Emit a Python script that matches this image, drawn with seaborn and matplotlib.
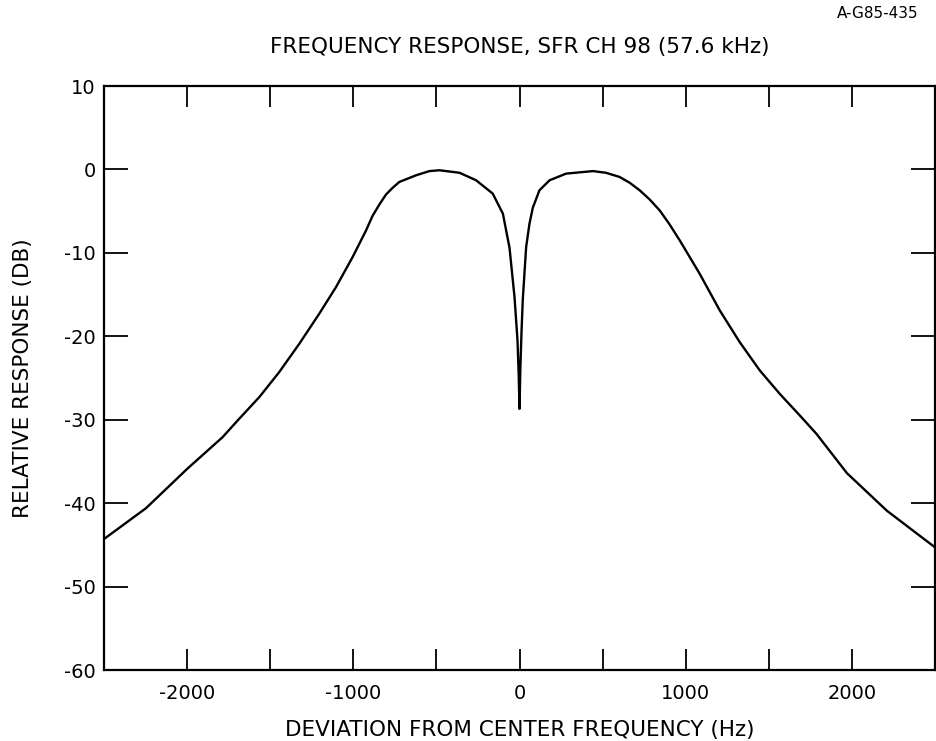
import matplotlib
matplotlib.use("Agg")
import matplotlib.pyplot as plt
import seaborn as sns
import pandas as pd
from matplotlib.ticker import MultipleLocator

# Data
deviation_hz = [-2500, -2247, -2000, -1787, -1687, -1566, -1446, -1325, -1205, -1104,
                -1004, -923, -885, -843, -803, -763, -723, -622, -542, -482, -361,
                -261, -161, -100, -60, -30, -12, -5, 0, 5, 12, 20, 40, 60, 80, 120,
                181, 281, 442, 520, 602, 663, 723, 783, 843, 900, 964, 1084, 1205,
                1325, 1446, 1566, 1687, 1787, 1970, 2210, 2500]
response_db = [-44.3, -40.6, -35.9, -32.1, -29.9, -27.3, -24.3, -20.9, -17.3, -14.1,
               -10.5, -7.3, -5.6, -4.2, -3.0, -2.2, -1.5, -0.7, -0.2, -0.1, -0.4,
               -1.3, -2.9, -5.3, -9.4, -15.3, -20.5, -24.5, -28.7, -24.0, -19.5,
               -15.5, -9.3, -6.5, -4.6, -2.5, -1.3, -0.5, -0.2, -0.4, -0.9, -1.6,
               -2.5, -3.6, -4.9, -6.5, -8.5, -12.5, -16.9, -20.7, -24.1, -26.9,
               -29.5, -31.7, -36.4, -40.9, -45.3]

x_major = [-2000, -1000, 0, 1000, 2000]
y_major = [10, 0, -10, -20, -30, -40, -50, -60]

title = "FREQUENCY RESPONSE, SFR CH 98 (57.6 kHz)"
xlabel = "DEVIATION FROM CENTER FREQUENCY (Hz)"
ylabel = "RELATIVE RESPONSE (DB)"
tag = "A-G85-435"

sns.set_style("white")
plt.rcParams['font.family'] = ['DejaVu Sans']
plt.rcParams['text.color'] = 'black'
plt.rcParams['axes.labelcolor'] = 'black'
plt.rcParams['xtick.color'] = 'black'
plt.rcParams['ytick.color'] = 'black'

df = pd.DataFrame({"dev": deviation_hz, "db": response_db})

fig = plt.figure(figsize=(9.37, 7.41), dpi=100)
ax = fig.add_axes([104/937, 1 - 670/741, (935 - 104)/937, (670 - 86)/741])

sns.lineplot(data=df, x="dev", y="db", ax=ax, color="black", linewidth=1.7, sort=False)

ax.set_xlim(-2500, 2500)
ax.set_ylim(-60, 10)
ax.xaxis.set_minor_locator(MultipleLocator(500))
ax.set_xticks(x_major)
ax.set_xticklabels([str(v) for v in x_major])
ax.set_yticks(y_major)
ax.set_yticklabels([str(v) for v in y_major])

ax.tick_params(axis="both", which="both", direction="in", top=True, right=True,
               bottom=True, left=True, width=1.3, color="black")
ax.tick_params(axis="x", which="both", length=15, labelsize=14, pad=10)
ax.tick_params(axis="y", which="major", length=17, labelsize=14, pad=6)

for s in ax.spines.values():
    s.set_color("black")
    s.set_linewidth(1.6)
    s.set_visible(True)

ax.set_xlabel(xlabel, fontsize=15.5, labelpad=12)
ax.set_ylabel(ylabel, fontsize=15.5, labelpad=22)
fig.text(520/937, 1 - 47/741, title, ha="center", va="center", fontsize=15.5)
fig.text(878/937, 1 - 14/741, tag, ha="center", va="center", fontsize=11)

fig.savefig("out.png", dpi=100, facecolor="white")
